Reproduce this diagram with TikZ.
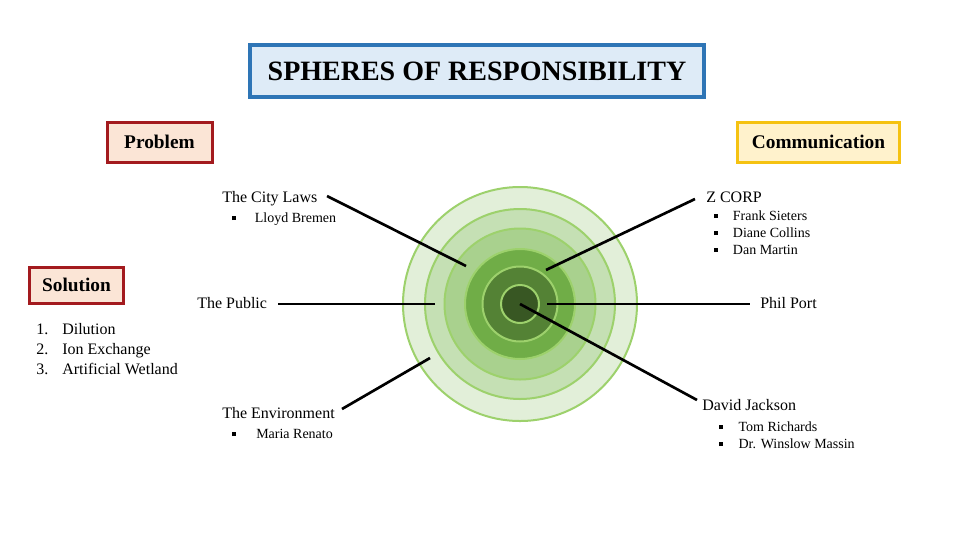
\documentclass[tikz,border=0pt]{standalone}
\usepackage{fontspec}
\setmainfont{Liberation Serif}
\usetikzlibrary{positioning}

\definecolor{titleblue}{HTML}{2E75B6}
\definecolor{titlefill}{HTML}{DEEBF7}
\definecolor{probred}{HTML}{A31A1E}
\definecolor{probfill}{HTML}{FBE5D6}
\definecolor{commgold}{HTML}{F5C211}
\definecolor{commfill}{HTML}{FFF2CC}
\definecolor{ringline}{HTML}{9DD16C}
\definecolor{ringa}{HTML}{E2EFD9}
\definecolor{ringb}{HTML}{C5E0B4}
\definecolor{ringc}{HTML}{A9D18E}
\definecolor{ringd}{HTML}{70AD47}
\definecolor{ringe}{HTML}{548235}
\definecolor{ringf}{HTML}{385723}

\newcommand{\sqb}{\rule[1.5pt]{3pt}{3pt}}

\tikzset{
  headbox/.style={draw, line width=2.25pt, inner sep=0pt,
    font=\fontsize{14.5}{17}\selectfont\bfseries, minimum height=30pt},
  probbox/.style={headbox, draw=probred, fill=probfill},
  commbox/.style={headbox, draw=commgold, fill=commfill},
  label/.style={inner sep=0pt, anchor=base west, font=\fontsize{12}{15}\selectfont},
  items/.style={inner sep=0pt, anchor=base west, font=\fontsize{10.5}{12.75}\selectfont},
  ring/.style={draw=ringline, line width=1.5pt},
  spoke/.style={line width=2pt, black}
}

\begin{document}
\begin{tikzpicture}[x=0.75pt,y=-0.75pt]
\useasboundingbox (0,0) rectangle (960,540);

% title
\node[draw=titleblue, fill=titlefill, line width=3pt, minimum width=340.5pt,
  minimum height=39pt, inner sep=0pt, font=\fontsize{21}{25}\selectfont\bfseries]
  (title) at (477,71) {SPHERES OF RESPONSIBILITY};

% boxes
\node[probbox, minimum width=78.75pt] (problem) at (159.5,142) {Problem};
\node[commbox, minimum width=122pt] (comm) at (818.5,142) {Communication};
\node[probbox, minimum width=71pt, minimum height=27pt] (solution) at (76.5,285) {Solution};

% solution list
\node[label] (sollist) at (36,334.5) {\begin{tabular}[t]{@{}l@{\hspace{10.5pt}}l@{}}
1. & Dilution\\
2. & Ion Exchange\\
3. & Artificial Wetland
\end{tabular}};

% the rings
\coordinate (core) at (520,304);
\draw[ring, fill=ringa] (core) circle (117);
\draw[ring, fill=ringb] (core) circle (95);
\draw[ring, fill=ringc] (core) circle (75.5);
\draw[ring, fill=ringd] (core) circle (55);
\draw[ring, fill=ringe] (core) circle (37.5);
\draw[ring, fill=ringf] (core) circle (19);

% labels
\node[label] (citylaws) at (222,202.5) {The City Laws};
\node[items] (citylist) at (232,222) {\sqb\hspace{14pt}Lloyd Bremen};
\node[label] (zcorp) at (706,202.5) {Z CORP};
\node[items] (zcorplist) at (714,220) {\begin{tabular}[t]{@{}l@{\hspace{11pt}}l@{}}
\sqb & Frank Sieters\\
\sqb & Diane Collins\\
\sqb & Dan Martin
\end{tabular}};
\node[label] (public) at (197,308.5) {The Public};
\node[label] (philport) at (760,308.5) {Phil Port};
\node[label] (environment) at (222,418.5) {The Environment};
\node[items] (envlist) at (232,438) {\sqb\hspace{15pt}Maria Renato};
\node[label] (david) at (702,410.5) {David Jackson};
\node[items] (davidlist) at (719,431) {\begin{tabular}[t]{@{}l@{\hspace{11.5pt}}l@{}}
\sqb & Tom Richards\\
\sqb & Dr. Winslow Massin
\end{tabular}};

% spokes
\coordinate (cityin) at (466,266);
\coordinate (zcorpin) at (546,270);
\coordinate (publicin) at (435,304);
\coordinate (philin) at (547,304);
\coordinate (envin) at (430,358);
\draw[spoke] (327,196) coordinate (cityout) -- (cityin);
\draw[spoke] (zcorpin) -- (695,199) coordinate (zcorpout);
\draw[spoke, shorten >=8.25pt] (publicin) -- (publicin -| public.east);
\draw[spoke, shorten >=7.5pt] (philin) -- (philin -| philport.west);
\draw[spoke] (342,409) coordinate (envout) -- (envin);
\draw[spoke] (core) -- (697,400) coordinate (davidout);
\end{tikzpicture}
\end{document}
